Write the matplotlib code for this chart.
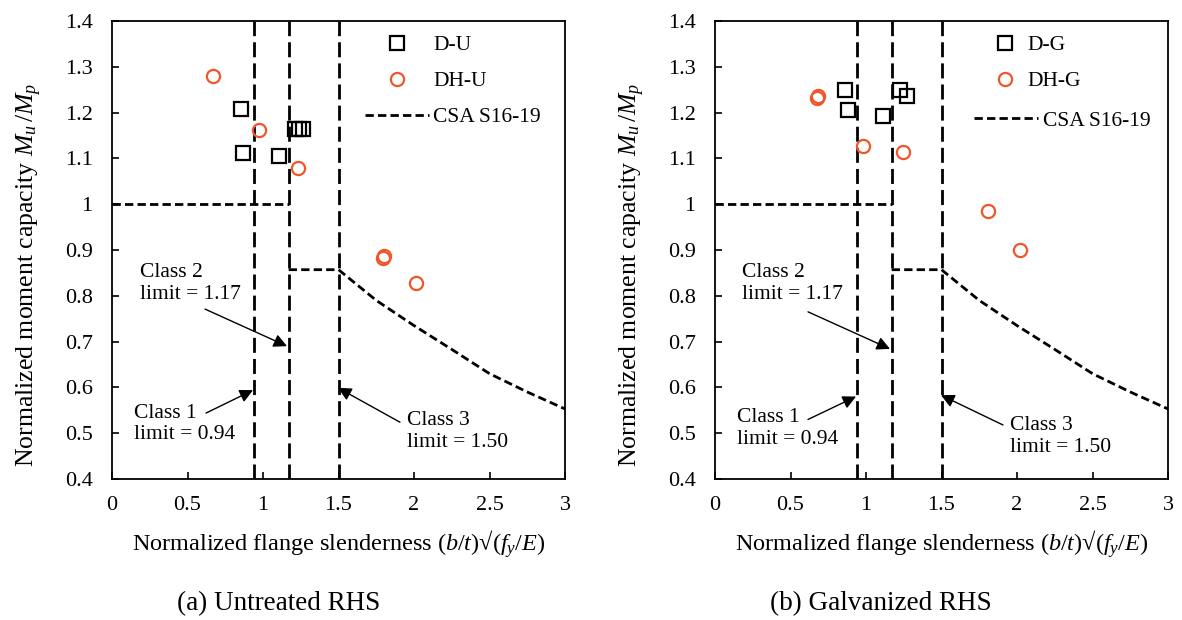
import matplotlib
matplotlib.use("Agg")
import matplotlib.pyplot as plt
from matplotlib.ticker import FuncFormatter

plt.rcParams['font.family'] = ['Liberation Serif', 'DejaVu Serif']
plt.rcParams['mathtext.fontset'] = 'custom'
plt.rcParams['mathtext.rm'] = 'Liberation Serif'
plt.rcParams['mathtext.it'] = 'Liberation Serif:italic'

# ---- test data: untreated RHS ----
du_x = [0.852, 0.870, 1.104, 1.212, 1.240, 1.267]
du_y = [1.208, 1.112, 1.105, 1.164, 1.164, 1.164]
dhu_x = [0.671, 0.976, 1.234, 1.797, 1.800, 2.011]
dhu_y = [1.279, 1.163, 1.080, 0.883, 0.887, 0.827]

# ---- test data: galvanized RHS ----
dg_x = [0.859, 0.881, 1.111, 1.225, 1.269]
dg_y = [1.249, 1.206, 1.193, 1.249, 1.237]
dhg_x = [0.676, 0.680, 0.982, 1.243, 1.810, 2.020]
dhg_y = [1.232, 1.236, 1.128, 1.115, 0.986, 0.900]

# ---- CSA S16-19 design curve ----
csa_flat_x = [0.0, 1.17]
csa_flat_y = [1.0, 1.0]
csa_x = [1.17, 1.50, 1.75, 2.00, 2.25, 2.50, 2.75, 3.00]
csa_y = [0.857, 0.857, 0.790, 0.735, 0.683, 0.630, 0.590, 0.553]

# ---- class limits ----
class_limits = [0.94, 1.17, 1.50]

x_ticks = [0, 0.5, 1, 1.5, 2, 2.5, 3]
y_ticks = [0.4, 0.5, 0.6, 0.7, 0.8, 0.9, 1.0, 1.1, 1.2, 1.3, 1.4]

ORANGE = '#F0562A'
DASH_LONG = (0, (5.4, 2.2))
DASH_SHORT = (0, (3, 1.5))
FS_TICK = 16
FS_LABEL = 17.5
FS_NOTE = 15.5

fig = plt.figure(figsize=(11.82, 6.2), dpi=100)
ax_a = fig.add_axes([112 / 1182, 141 / 620, 453 / 1182, 458 / 620])
ax_b = fig.add_axes([715 / 1182, 141 / 620, 453 / 1182, 458 / 620])

# annotation placement per panel: (text, text xy, arrow tail, arrow head)
notes_a = [
    ('Class 2\nlimit = 1.17', (0.185, 0.826), (0.616, 0.771), (1.159, 0.690)),
    ('Class 1\nlimit = 0.94', (0.146, 0.520), (0.623, 0.544), (0.934, 0.594)),
    ('Class 3\nlimit = 1.50', (1.954, 0.503), (1.907, 0.524), (1.497, 0.599)),
]
notes_b = [
    ('Class 2\nlimit = 1.17', (0.180, 0.826), (0.616, 0.765), (1.159, 0.684)),
    ('Class 1\nlimit = 0.94', (0.146, 0.510), (0.616, 0.530), (0.934, 0.580)),
    ('Class 3\nlimit = 1.50', (1.954, 0.493), (1.907, 0.518), (1.497, 0.583)),
]

panels = [
    (ax_a, du_x, du_y, dhu_x, dhu_y, 'D-U', 'DH-U', '(a) Untreated RHS', 279, notes_a),
    (ax_b, dg_x, dg_y, dhg_x, dhg_y, 'D-G', 'DH-G', '(b) Galvanized RHS', 881, notes_b),
]

fmt = FuncFormatter(lambda v, p: ('%.1f' % v).rstrip('0').rstrip('.') if v != 0 else '0')

for i, (ax, sx, sy, cx, cy, lab_s, lab_c, caption, cap_x, notes) in enumerate(panels):
    for xl in class_limits:
        ax.axvline(xl, color='black', lw=2.0, linestyle=DASH_LONG, zorder=2)
    ax.plot(csa_flat_x, csa_flat_y, color='black', lw=2.0, linestyle=DASH_SHORT, zorder=2)
    line_csa, = ax.plot(csa_x, csa_y, color='black', lw=2.0, linestyle=DASH_SHORT,
                        zorder=2, label='CSA S16-19')
    h_s, = ax.plot(sx, sy, linestyle='none', marker='s', markersize=10, markerfacecolor='none',
                   markeredgecolor='black', markeredgewidth=1.6, label=lab_s, zorder=3)
    h_c, = ax.plot(cx, cy, linestyle='none', marker='o', markersize=9.5, markerfacecolor='none',
                   markeredgecolor=ORANGE, markeredgewidth=1.6, label=lab_c, zorder=3)

    ax.set_xlim(0, 3)
    ax.set_ylim(0.4, 1.4)
    ax.set_xticks(x_ticks)
    ax.set_yticks(y_ticks)
    ax.xaxis.set_major_formatter(fmt)
    ax.yaxis.set_major_formatter(fmt)
    ax.tick_params(direction='in', length=5, width=1.2, labelsize=FS_TICK)
    ax.tick_params(axis='x', pad=12)
    ax.tick_params(axis='y', pad=14)
    for sp in ax.spines.values():
        sp.set_linewidth(1.3)

    ax.set_xlabel(r'Normalized flange slenderness ($b$/$t$)√($f_y$/$E$)', fontsize=FS_LABEL, labelpad=10)
    ax.set_ylabel(r'Normalized moment capacity $M_u\,/M_p$', fontsize=18.5)
    ax.yaxis.set_label_coords(-0.15, 0.445)

    if i == 0:
        ax.legend(handles=[h_s, h_c, line_csa], loc='upper left', bbox_to_anchor=(0.527, 1.0),
                  frameon=False, fontsize=FS_NOTE, handlelength=3.0, handletextpad=0.17,
                  labelspacing=0.75, borderaxespad=0.25)
    else:
        leg1 = ax.legend(handles=[h_s, h_c], loc='upper left', bbox_to_anchor=(0.5855, 1.0),
                         frameon=False, fontsize=FS_NOTE, handlelength=1.0, handletextpad=0.52,
                         labelspacing=0.75, borderaxespad=0.25)
        ax.add_artist(leg1)
        ax.legend(handles=[line_csa], loc='upper left', bbox_to_anchor=(0.54, 0.835),
                  frameon=False, fontsize=FS_NOTE, handlelength=3.0, handletextpad=0.2,
                  borderaxespad=0.25)

    fig.text(cap_x / 1182, 1 - 604 / 620, caption, ha='center', va='center', fontsize=19.5)

    arrow = dict(arrowstyle='-|>', mutation_scale=20, lw=1.0, color='black', shrinkA=0, shrinkB=0)
    for txt, txy, tail, head in notes:
        ax.text(txy[0], txy[1], txt, ha='left', va='center', fontsize=FS_NOTE, linespacing=1.2)
        ax.annotate('', xy=head, xytext=tail, arrowprops=arrow)

fig.savefig('out.png', dpi=100)
